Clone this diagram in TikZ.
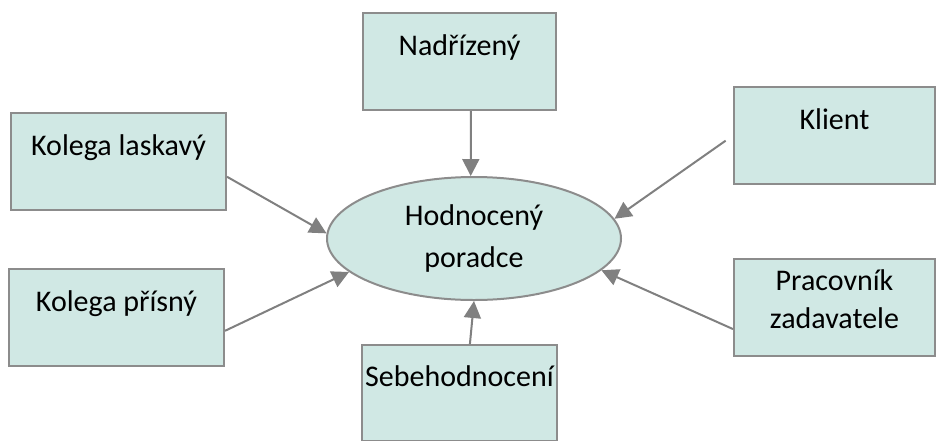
\documentclass[tikz,border=0pt]{standalone}
\usepackage{fontspec}
\setmainfont{Carlito}
\usepackage{xcolor}
\usetikzlibrary{arrows.meta,shapes.geometric}

\definecolor{boxfill}{HTML}{D0E8E4}
\definecolor{boxline}{HTML}{8C8C8C}
\definecolor{arrowgray}{HTML}{808080}

\begin{document}
\begin{tikzpicture}[x=1pt,y=-1pt,
	font=\fontsize{30}{38}\selectfont,
	box/.style={draw=boxline,fill=boxfill,line width=2pt,inner sep=0pt,
		anchor=north,align=center,minimum width=#1,text height=42pt,text depth=55pt},
	centre/.style={ellipse,draw=boxline,fill=boxfill,line width=2pt,inner sep=0pt,
		minimum width=294pt,minimum height=123pt,align=center,
		font=\fontsize{30}{42}\selectfont},
	arr/.style={-{Triangle[length=17pt,width=17pt]},color=arrowgray,line width=2pt}]
		\useasboundingbox (0,0) rectangle (937,440);
		\node[centre] (H) at (474,238.5) {Hodnocený\\poradce};
		\node[box=193pt] (N) at (459.5,12) {Nadřízený};
		\node[box=215pt] (KL) at (118.5,112) {Kolega laskavý};
		\node[box=215pt] (KP) at (116.5,268) {Kolega přísný};
		\node[box=201pt] (K) at (834.5,86) {Klient};
		\node[box=201pt,text height=69pt,text depth=28pt] (P) at (834.5,258) {Pracovník\\zadavatele};
		\node[box=195pt,text height=41pt] (S) at (459.5,344) {Sebehodnocení};
		%
		\path[arr]
		% left side
		(KL.-8) edge (H.178.6)
		(KP.-7) edge (H.195.8)
		% top and bottom
		(N.-77.7) edge (H.93.7)
		(S.78) edge (H.270.5)
		% right side
		(K.west) edge[shorten <=9pt] (H.8.9)
		(P.192) edge (H.-14);
\end{tikzpicture}
\end{document}
